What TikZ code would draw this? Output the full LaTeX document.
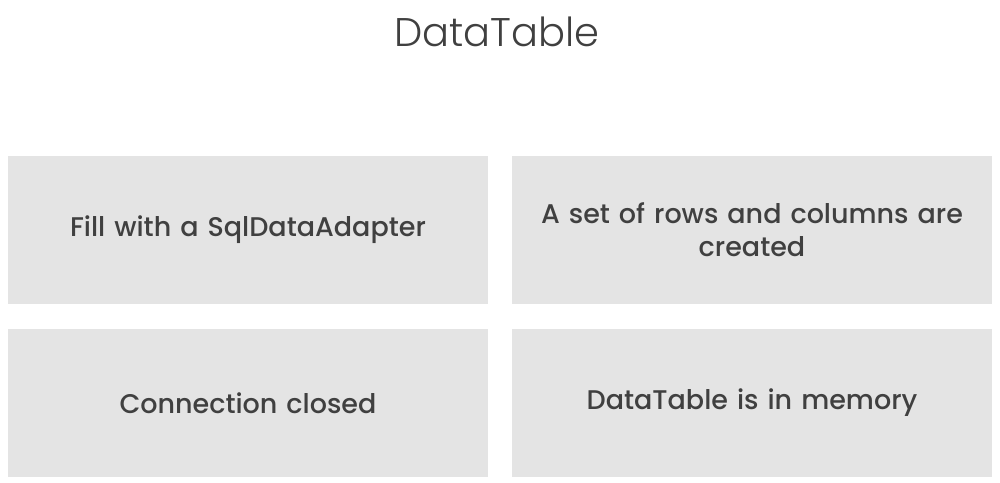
\documentclass[tikz,border=0pt]{standalone}
\usepackage{fontspec}
\setmainfont{Poppins}[UprightFont=* Medium]
\newfontfamily\titlefont{Poppins}[UprightFont=* Light]
\definecolor{boxgray}{HTML}{E4E4E4}
\definecolor{txtgray}{HTML}{404040}
\begin{document}
\begin{tikzpicture}[x=1pt,y=-1pt,
  cell/.style={fill=boxgray, draw=none, minimum width=480pt, minimum height=148pt, inner sep=0pt, align=center, text=txtgray, font=\fontsize{27}{33}\selectfont, text width=460pt},
  ttl/.style={text=txtgray, font=\titlefont\fontsize{40}{46}\selectfont, inner sep=0pt}]
\useasboundingbox (0,0) rectangle (1000,482);
\node[ttl] (title) at (497,32) {DataTable};
\node[cell] (fill) at (248,230) {Fill with a SqlDataAdapter};
\node[cell] (rows) at (752,230) {A set of rows and columns are\\created};
\node[cell] (closed) at (248,403) {Connection closed};
\node[cell] (mem) at (752,403) {DataTable is in memory};
\end{tikzpicture}
\end{document}
